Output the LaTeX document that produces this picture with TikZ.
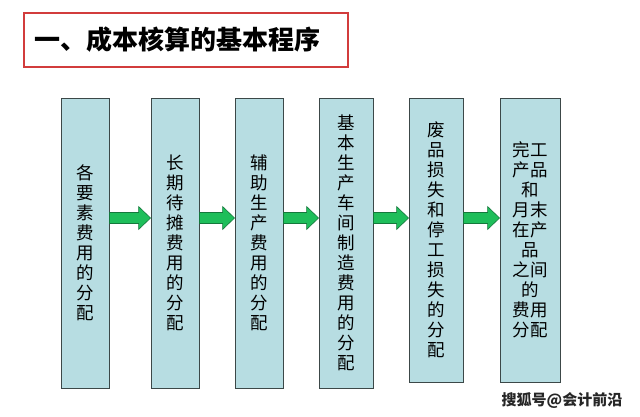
\documentclass[tikz,border=0pt]{standalone}
\usepackage{fontspec}
\newfontfamily\cjk{Noto Sans CJK SC}
\usetikzlibrary{calc}
\definecolor{boxfill}{RGB}{183,221,226}
\definecolor{boxline}{RGB}{60,72,72}
\definecolor{arrfill}{RGB}{30,190,90}
\definecolor{arrline}{RGB}{20,120,60}
\definecolor{titleline}{RGB}{210,60,60}
\tikzset{
  stagebox/.style={draw=boxline, line width=0.9pt, fill=boxfill, minimum width=48pt,
    inner sep=0pt, align=center, font=\cjk\fontsize{17.5}{20}\selectfont},
  flowarrow/.style={draw=arrline, line width=0.6pt, fill=arrfill},
}
\newcommand{\flowarr}[2]{%
  \path[flowarrow] ($(#1.east |- arrowrow)+(0,-5.5)$) -- ($(#2.west |- arrowrow)+(-12,-5.5)$)
    -- ($(#2.west |- arrowrow)+(-12,-11.5)$) -- (#2.west |- arrowrow)
    -- ($(#2.west |- arrowrow)+(-12,11.5)$) -- ($(#2.west |- arrowrow)+(-12,5.5)$)
    -- ($(#1.east |- arrowrow)+(0,5.5)$) -- cycle;}
\begin{document}
\begin{tikzpicture}[x=1pt,y=-1pt]
\useasboundingbox[fill=white] (0,0) rectangle (640,416);
\node[draw=titleline, line width=1.2pt, minimum width=324pt, minimum height=54pt, inner sep=0pt] (titlebox) at (186,40) {};
\node[anchor=west, inner sep=0pt, font=\cjk\bfseries\fontsize{26}{30}\selectfont] (title) at (34,40) {一、成本核算的基本程序};
\coordinate (arrowrow) at (0,218);
\node[stagebox, minimum width=48pt, minimum height=290pt] (b1) at (85,243) {各\\要\\素\\费\\用\\的\\分\\配};
\node[stagebox, minimum width=48pt, minimum height=290pt] (b2) at (175,243) {长\\期\\待\\摊\\费\\用\\的\\分\\配};
\node[stagebox, minimum width=48pt, minimum height=290pt] (b3) at (259,243) {辅\\助\\生\\产\\费\\用\\的\\分\\配};
\node[stagebox, minimum width=54pt, minimum height=290pt] (b4) at (346,243) {基\\本\\生\\产\\车\\间\\制\\造\\费\\用\\的\\分\\配};
\node[stagebox, minimum width=54pt, minimum height=284pt] (b5) at (436,240) {废\\品\\损\\失\\和\\停\\工\\损\\失\\的\\分\\配};
\node[stagebox, minimum width=60pt, minimum height=284pt] (b6) at (530,240) {完工\\产品\\和\\月末\\在产\\品\\之间\\的\\费用\\分配};
\flowarr{b1}{b2}
\flowarr{b2}{b3}
\flowarr{b3}{b4}
\flowarr{b4}{b5}
\flowarr{b5}{b6}
\node[inner sep=0pt, font=\cjk\bfseries\fontsize{15}{16}\selectfont, text=black!85] (mark) at (562,400) {搜狐号@会计前沿};
\end{tikzpicture}
\end{document}
